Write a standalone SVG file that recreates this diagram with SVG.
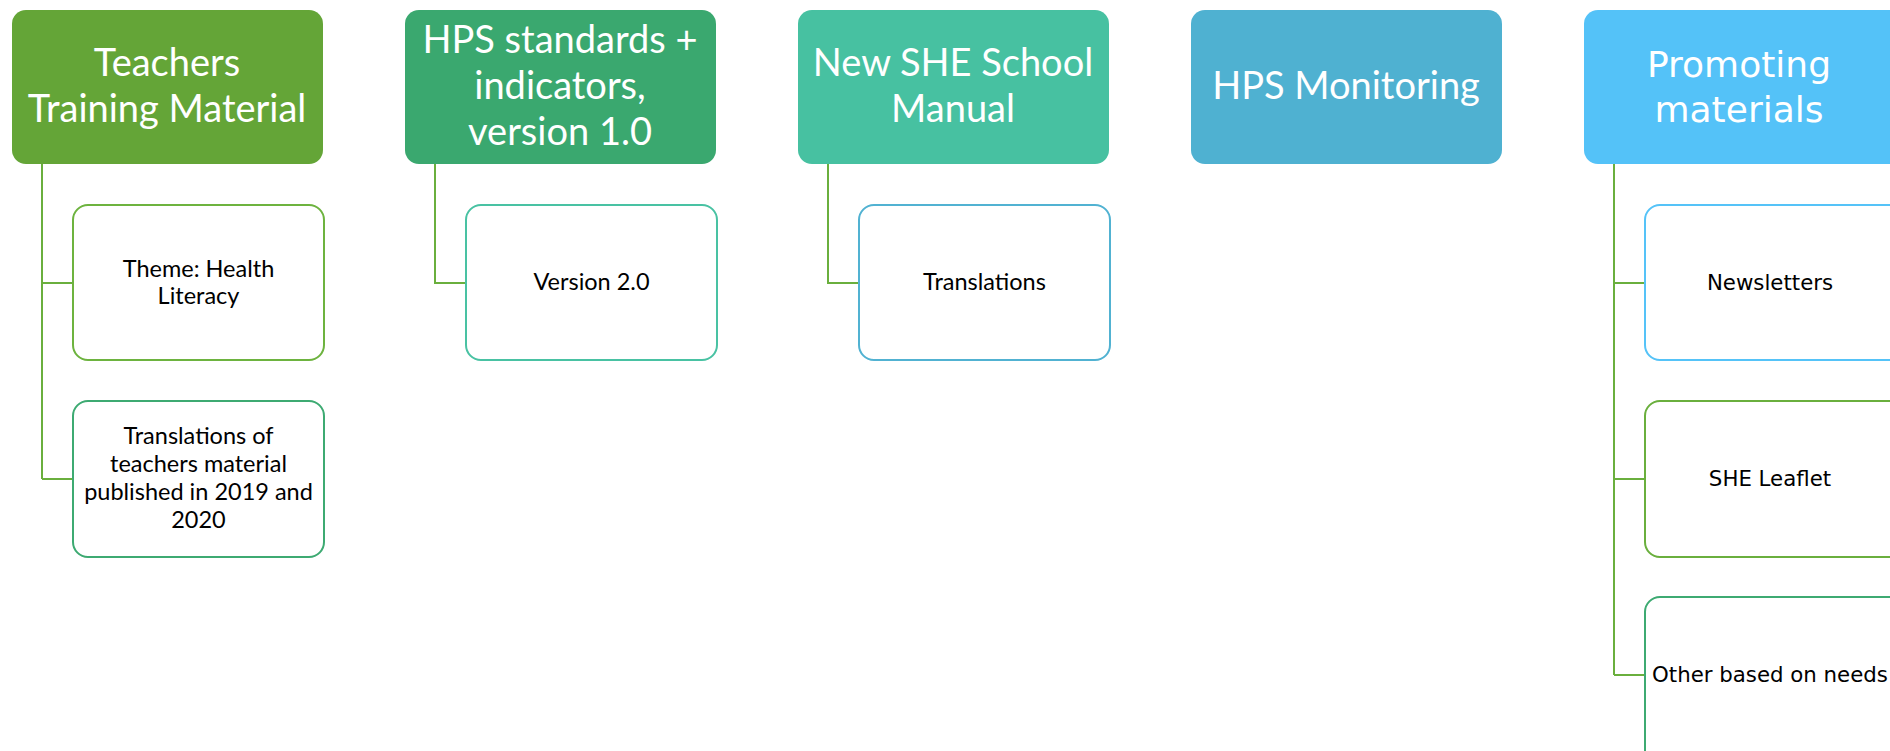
<svg xmlns="http://www.w3.org/2000/svg" width="1890" height="751" viewBox="0 0 1890 751">
<style>
.top{font-family:Lato,"Open Sans",sans-serif;font-size:38px;fill:#fff;text-anchor:middle}
.topv{font-family:"DejaVu Sans",Verdana,sans-serif;font-size:36px;fill:#fff;text-anchor:middle}
.ch{font-family:Lato,"Open Sans",sans-serif;font-size:23.5px;fill:#000;text-anchor:middle}
.chv{font-family:"DejaVu Sans",Verdana,sans-serif;font-size:21.3px;fill:#000;text-anchor:middle}
.child{fill:#fff;stroke-width:2}
.conn{fill:none;stroke:#6AAF3D;stroke-width:2}
</style>
<rect width="1890" height="751" fill="#fff"/>
<g id="connectors">
<path class="conn" d="M42 164 V479 M42 283 H73 M42 479 H73"/>
<path class="conn" d="M435 164 V283 H466"/>
<path class="conn" d="M828 164 V283 H859"/>
<path class="conn" d="M1614 164 V675 M1614 283 H1645 M1614 479 H1645 M1614 675 H1645"/>
</g>
<g id="n-teachers">
<rect x="12" y="10" width="311" height="154" rx="14" fill="#64A537"/>
<text class="top" x="167" y="76">Teachers</text>
<text class="top" x="167" y="122">Training Material</text>
</g>
<g id="n-hps-standards">
<rect x="405" y="10" width="311" height="154" rx="14" fill="#3AA86F"/>
<text class="top" x="560" y="53">HPS standards +</text>
<text class="top" x="560" y="99">indicators,</text>
<text class="top" x="560" y="145">version 1.0</text>
</g>
<g id="n-she-manual">
<rect x="798" y="10" width="311" height="154" rx="14" fill="#47C1A1"/>
<text class="top" x="953" y="76">New SHE School</text>
<text class="top" x="953" y="122">Manual</text>
</g>
<g id="n-hps-monitoring">
<rect x="1191" y="10" width="311" height="154" rx="14" fill="#4FB1D1"/>
<text class="top" x="1346" y="99">HPS Monitoring</text>
</g>
<g id="n-promoting">
<rect x="1584" y="10" width="320" height="154" rx="14" fill="#54C2F8"/>
<text class="topv" x="1739" y="77">Promoting</text>
<text class="topv" x="1739" y="122">materials</text>
</g>
<g id="n-theme">
<rect class="child" x="73" y="205" width="251" height="155" rx="15" stroke="#6DB33F"/>
<text class="ch" x="198.5" y="277">Theme: Health</text>
<text class="ch" x="198.5" y="304">Literacy</text>
</g>
<g id="n-translations-teachers">
<rect class="child" x="73" y="401" width="251" height="156" rx="15" stroke="#3DAA72"/>
<text class="ch" x="198.5" y="444">Translations of</text>
<text class="ch" x="198.5" y="472">teachers material</text>
<text class="ch" x="198.5" y="500">published in 2019 and</text>
<text class="ch" x="198.5" y="528">2020</text>
</g>
<g id="n-version2">
<rect class="child" x="466" y="205" width="251" height="155" rx="15" stroke="#49C2A3"/>
<text class="ch" x="591.5" y="290">Version 2.0</text>
</g>
<g id="n-translations">
<rect class="child" x="859" y="205" width="251" height="155" rx="15" stroke="#51B2D2"/>
<text class="ch" x="984.5" y="290">Translations</text>
</g>
<g id="n-newsletters">
<rect class="child" x="1645" y="205" width="260" height="155" rx="15" stroke="#55C3F8"/>
<text class="chv" x="1770" y="290">Newsletters</text>
</g>
<g id="n-leaflet">
<rect class="child" x="1645" y="401" width="260" height="156" rx="15" stroke="#6AAF3D"/>
<text class="chv" x="1770" y="486">SHE Leaflet</text>
</g>
<g id="n-other">
<rect class="child" x="1645" y="597" width="260" height="170" rx="15" stroke="#3DAA72"/>
<text class="chv" x="1770" y="682">Other based on needs</text>
</g>
</svg>
